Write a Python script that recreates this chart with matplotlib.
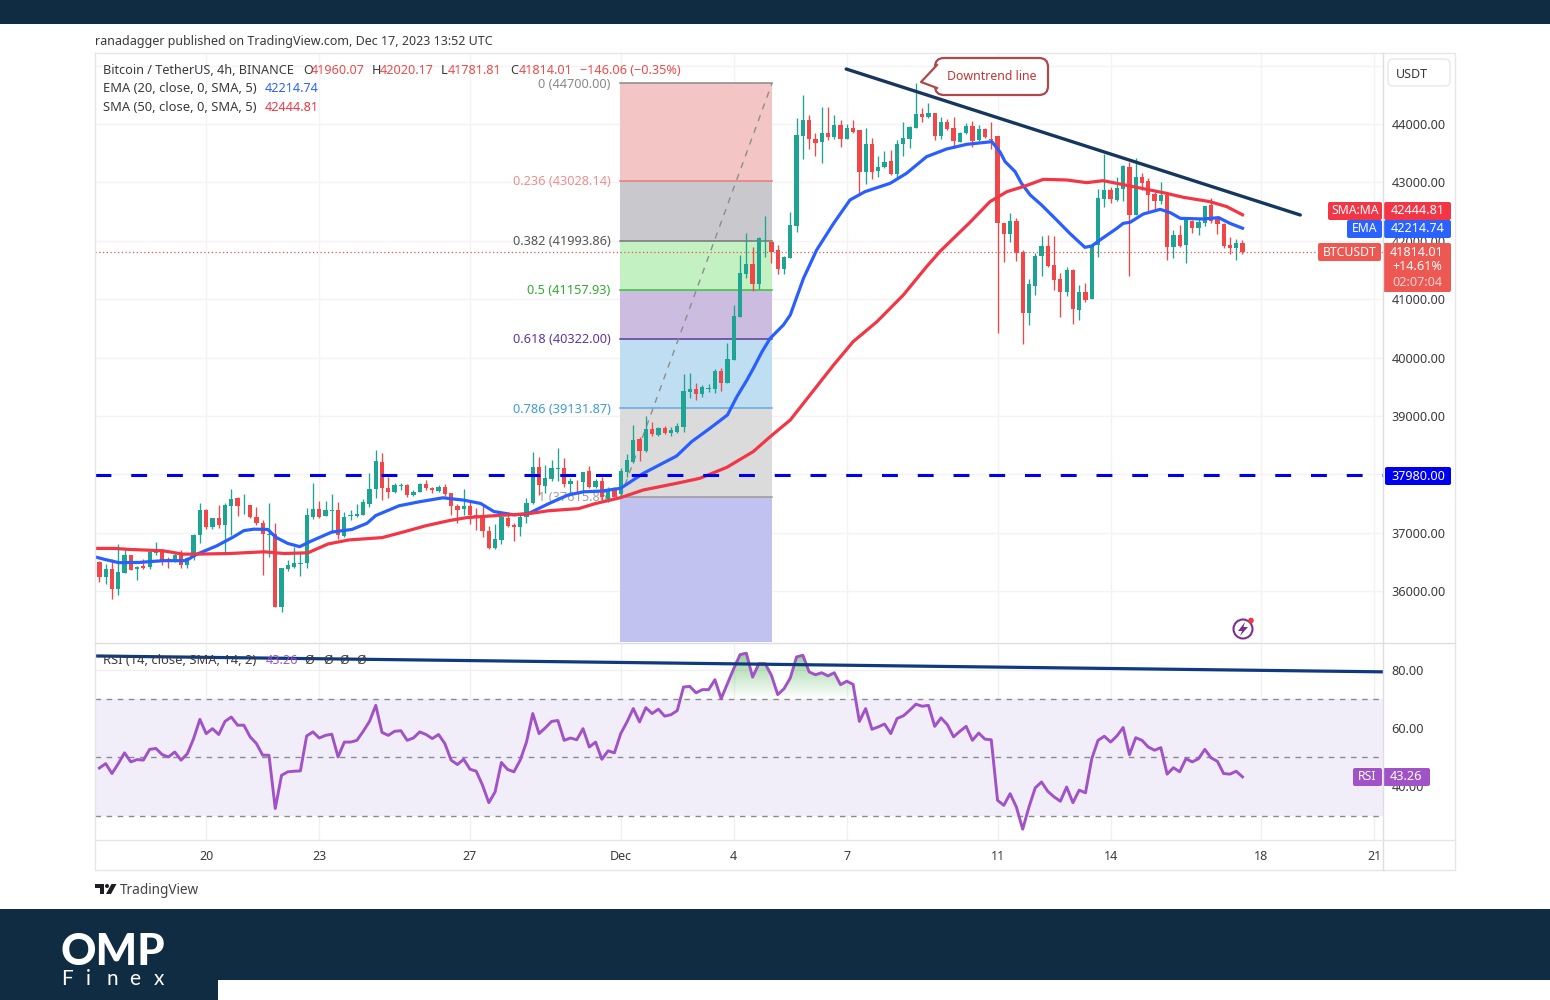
import numpy as np
import matplotlib
matplotlib.use('Agg')
import matplotlib.pyplot as plt
from matplotlib.colors import LinearSegmentedColormap
from matplotlib.patches import Rectangle, FancyBboxPatch, Polygon, Circle
from matplotlib.path import Path

plt.rcParams['font.family'] = ['Noto Sans', 'DejaVu Sans']

# 4h candles, BTC/USDT, first bar is Nov 17 04:00
opens = [36504,36232,36370,36040,36301,36614,36370,36428,36417,36655,
36684,36556,36504,36614,36446,36585,36962,37380,37090,37246,
37131,37461,37586,37466,37478,37275,37171,36962,36973,35734,
36370,36417,36463,36475,37275,37403,37287,37368,37380,36944,
37287,37287,37304,37499,37748,38216,37759,37690,37806,37817,
37644,37702,37829,37771,37719,37788,37673,37461,37403,37449,
37304,37304,37032,36730,36875,37246,37131,37090,37264,37510,
38117,37806,37922,38088,38100,37835,37875,37864,38059,37788,
37893,37568,37748,37662,38045,38216,38599,38399,38770,38673,
38787,38702,38730,38804,39415,39461,39375,39461,39455,39775,
39558,39958,40689,41425,41597,41260,41973,41985,41842,41517,
41710,42258,43800,44069,43738,43686,43852,43772,43983,43738,
43926,43897,43184,43658,43201,43258,43366,43144,43652,43738,
43937,44172,44114,44183,43795,44040,43926,43698,43840,43966,
43726,43909,43738,43795,42310,42116,42338,41813,40768,41231,
41739,41910,41585,41339,41116,41499,40814,41116,40997,41927,
42710,42870,42698,42887,43269,42441,43098,43029,42795,42687,
42784,41899,42099,41927,42344,42213,42310,42613,42396,42281,
41927,41882,41960]
closes = [36232,36370,36040,36318,36614,36359,36417,36388,36672,36672,
36504,36521,36614,36446,36574,36962,37380,37090,37246,37131,
37478,37568,37449,37478,37264,37160,36973,36973,35734,36388,
36446,36475,36486,37304,37408,37275,37391,37380,36962,37275,
37304,37316,37528,37748,38227,37759,37702,37817,37817,37644,
37702,37829,37759,37731,37788,37661,37449,37380,37449,37304,
37246,37032,36730,36887,37264,37113,37102,37264,37516,38117,
37817,37933,38100,38100,37835,37893,37864,38042,37788,37893,
37603,37748,37615,38062,38245,38587,38405,38770,38690,38787,
38702,38759,38827,39427,39461,39370,39490,39472,39775,39558,
39969,40712,41442,41597,41260,42042,41985,41802,41517,41716,
42270,43812,44069,43738,43680,43852,43783,43983,43743,43926,
43869,43184,43658,43184,43269,43355,43138,43658,43755,43955,
44172,44114,44183,43795,44040,43909,43715,43852,43966,43715,
43909,43772,43726,42298,42116,42344,41785,40768,41254,41739,
41910,41568,41328,41128,41499,40825,41116,40985,41922,42738,
42870,42710,42898,43281,42441,43098,42995,42784,42687,42784,
41899,42099,41910,42356,42213,42327,42601,42338,42281,41910,
41870,41956,41814]
highs = [36521,36463,36544,36806,36730,36614,36428,36544,36684,36846,
36701,36585,36672,36701,36585,36979,37507,37403,37258,37478,
37507,37748,37615,37655,37478,37432,37217,37507,37160,36388,
36528,36748,36643,37420,37858,37539,37545,37655,37528,37362,
37391,37487,37568,38030,38418,38360,37951,37846,37846,37829,
37731,37846,37904,37788,37817,37829,37673,37499,37748,37557,
37420,37449,37113,37148,37304,37362,37160,37304,37586,38389,
38302,38158,38245,38447,38274,37933,37904,38042,38140,37916,
37951,37788,37788,38102,38348,38844,38644,38999,38901,38804,
38827,38804,38884,39712,39741,39558,39530,39547,39798,39815,
40255,40900,41756,42139,41899,42059,42424,42002,41928,41739,
42487,44097,44497,44154,43852,44297,44286,44154,44069,44000,
44069,43897,43926,43755,43452,43532,43555,43726,44040,43966,
44697,44269,44354,44183,44126,44080,44126,43869,44023,44057,
43983,43926,44040,43795,42310,42470,42396,41842,41339,41785,
42082,42099,42082,41453,41556,41511,41242,41282,41944,42881,
43486,42927,43086,43298,43355,43412,43166,43069,42841,43012,
42784,42184,42270,42413,42356,42384,42601,42727,42413,42298,
42059,42024,42020]
lows = [36156,36127,35867,35925,36301,36359,36197,36370,36370,36614,
36446,36388,36504,36399,36399,36539,36817,37055,37055,37084,
36672,36962,37293,37322,37246,37131,36272,36585,35734,35635,
36341,36399,36255,36388,37229,37246,37287,37020,36887,36921,
37217,37275,37304,37441,37586,37557,37586,37673,37731,37603,
37626,37690,37731,37673,37702,37626,37304,37160,37304,37148,
37044,36921,36713,36713,36800,37090,36863,36945,37160,37499,
37644,37673,37893,37893,37788,37644,37673,37702,37759,37759,
37557,37545,37603,37617,37959,38188,38233,38388,38656,38656,
38690,38656,38713,38719,39301,39273,39330,39415,39387,39432,
39558,39958,40689,41357,41140,41168,41728,41625,41425,41425,
41710,42156,43401,43566,43452,43338,43726,43738,43601,43738,
43840,42824,42972,43052,43087,43241,43127,43070,43452,43583,
43926,44040,44097,43726,43738,43897,43583,43686,43829,43612,
43709,43755,43566,40414,41642,41984,41659,40231,40557,41071,
41396,41556,41156,40700,41059,40568,40643,40957,40997,41727,
42573,42652,42687,42687,41396,42441,42870,42481,42527,42630,
41670,41699,41887,41613,42139,42099,42253,42310,42116,41870,
41773,41670,41781]

ema_pos = [-0.7,0.9,3.1,6.3,10.1,13.8,15.4,18.7,21.4,23,24.6,26.8,28.1,30,31.9,33.7,37,40.2,42.6,44,
47.7,51,54.7,58,60.7,62.8,66,68.2,71.4,74.6,77.1,80,83,86.6,91.9,94.3,97.2,100,101.5,103.1,
104.2,105.5,106.8,108.9,110,112.1,114.2,116.9,119.5,121.9,125.9,128.5,131.7,134.9,138.1,142.1,143.4,144.2,145.8,146.8,
148.2,150,152.4,154.5,156.9,158,159.3,162,163,164.1,166.2,168.9,170.5,172.1,175.8,178.2,180,182]
ema_vals = [36585,36540,36486,36490,36520,36520,36625,36775,36930,37035,37060,37055,36920,36815,36760,36855,37010,37055,37160,37293,
37460,37530,37597,37557,37500,37362,37304,37322,37490,37644,37700,37713,37760,38016,38313,38559,38787,39016,39330,39615,
39830,40100,40329,40557,40729,41356,41842,42298,42698,42841,42984,43155,43440,43572,43652,43697,43520,43355,43184,42984,
42784,42613,42356,42127,41887,41910,42013,42213,42298,42316,42458,42538,42481,42384,42373,42396,42298,42214.74]

sma_pos = [-0.7,2.5,4.7,10.1,13.3,15.4,20.8,26.2,29.4,33.2,36.4,39.7,45,47.7,52,55.8,58.5,63.9,68.2,71.4,
76.3,79,83,86.6,91.9,95.6,99.9,104.1,106.8,110,116.9,120,123.8,128,131.7,133.9,138.6,141.8,144.5,147.1,
150.3,154,157.2,159.8,164.1,169.9,172.6,176.8,179.5,182]
sma_vals = [36730,36730,36713,36690,36632,36632,36643,36672,36643,36655,36806,36875,36915,36991,37119,37209,37258,37298,37322,37374,
37412,37499,37600,37731,37845,37931,38119,38388,38644,38930,39872,40271,40614,41071,41556,41824,42315,42670,42841,42927,
43052,43041,42995,43029,42938,42812,42744,42670,42584,42444.81]

rsi = [46.3,47.8,44.4,47.8,51.5,48.4,49.2,49.0,52.7,53.0,50.9,50.1,51.8,49.0,51.2,56.4,63.0,58.1,59.8,57.8,
62.3,63.8,61.0,61.0,57.0,54.7,50.7,50.7,32.4,43.8,45.0,45.2,45.3,57.3,58.7,56.6,57.5,57.9,50.1,55.2,
55.2,55.8,58.9,62.3,67.8,58.5,57.5,58.9,59.1,55.8,56.6,58.7,57.8,56.4,57.8,54.7,49.0,47.5,49.3,45.9,
45.2,40.4,34.4,38.1,48.2,45.8,45.0,49.0,55.2,65.0,58.1,60.1,62.3,62.6,55.8,56.6,56.0,59.8,53.5,55.2,
49.3,52.2,51.5,58.1,62.1,66.7,62.1,67.0,65.0,66.5,64.1,64.6,66.0,74.1,74.3,72.1,73.2,73.2,76.6,70.1,
75.3,80.4,85.2,85.7,77.5,82.1,82.1,78.1,71.5,73.5,77.2,84.4,85.0,79.3,78.3,79.0,77.9,79.0,74.9,76.1,
75.0,62.3,66.7,59.6,60.4,61.4,58.1,63.3,64.2,66.1,68.2,67.5,67.8,60.6,63.5,61.2,57.0,58.9,60.6,55.8,
58.3,56.2,56.0,35.2,33.5,37.5,32.9,25.3,32.9,39.5,41.5,38.3,36.4,34.9,39.8,34.4,38.7,37.8,49.5,55.8,
57.2,55.2,57.3,60.2,50.9,56.7,55.8,53.5,52.4,53.3,44.2,46.4,45.0,49.5,48.4,49.5,52.7,49.8,48.6,44.4,
44.2,45.2,43.26]

fib_levels = [0, 0.236, 0.382, 0.5, 0.618, 0.786, 1]
fib_prices = [44700.00, 43028.14, 41993.86, 41157.93, 40322.00, 39131.87, 37615.86]
fib_fill = ['#f3c5c4', '#c9c9cd', '#c3f1c1', '#cbbce0', '#c0def1', '#dbdbdb', '#c1c2ef']
fib_line = ['#8a8a8a', '#e57c7c', '#757575', '#3cc23c', '#5a3aa0', '#64a8da', '#9a9a9a']
fib_text = ['#8a8a8a', '#ee8f8f', '#555555', '#2fae2f', '#5e35a6', '#3f9bd8', '#a0a0a0']

price_ticks = [36000, 37000, 38000, 39000, 40000, 41000, 42000, 43000, 44000, 45000]
rsi_ticks = [40, 60, 80]
date_pos = [17, 35, 59, 83, 101, 119, 143, 161, 185, 203]
date_labels = ['20', '23', '27', 'Dec', '4', '7', '11', '14', '18', '21']

support = 37980
last_close = 41814.01
trend_pos = [118.9, 191.2]
trend_vals = [44942, 42441]
rsi_trend_pos = [-0.7, 204.37]
rsi_trend_vals = [84.75, 79.3]

W, H = 1550, 1000
NAVY = '#0f2c42'
GREEN = '#1ea492'
RED = '#f04848'
TXT = '#3a3a3e'


def box(x0, y0, x1, y1):
    return [x0 / W, 1 - y1 / H, (x1 - x0) / W, (y1 - y0) / H]


fig = plt.figure(figsize=(W / 100, H / 100), dpi=100, facecolor='white')

ax = fig.add_axes(box(95, 53, 1383, 642))
ax_rsi = fig.add_axes(box(95, 643, 1383, 840), sharex=ax)

# price pane
ax.set_xlim(-0.70, 204.37)
ax.set_ylim(35127, 45216)
for s in ax.spines.values():
    s.set_visible(False)
ax.yaxis.tick_right()
ax.set_yticks(price_ticks)
ax.set_yticklabels([f'{p:.2f}' if p < 45000 else '' for p in price_ticks], color=TXT, fontsize=9.1)
ax.set_xticks(date_pos)
ax.tick_params(axis='both', length=0, pad=6)
ax.tick_params(axis='x', labelbottom=False)
ax.grid(color='#f3f3f5', lw=1)
ax.set_axisbelow(True)

# fib retracement
fx0, fx1 = 83, 107.1
edges = fib_prices + [35127]
for i in range(len(fib_fill)):
    ax.fill_between([fx0 - 0.1, fx1], edges[i], edges[i + 1], color=fib_fill[i], lw=0, zorder=1)
for lvl, p, lc, tc in zip(fib_levels, fib_prices, fib_line, fib_text):
    ax.plot([fx0 - 0.1, fx1], [p, p], color=lc, lw=1.1, zorder=1.5)
    ax.text(81.4, p - 15, f'{lvl} ({p:.2f})', color=tc, fontsize=9.2, ha='right', va='center', zorder=1.5)
ax.plot([fx0, fx1], [fib_prices[-1], fib_prices[0]], color='#8c8c8c', lw=1, ls=(0, (4.5, 4.5)), zorder=1.6)

# candles
x = np.arange(len(opens))
opens = np.array(opens)
closes = np.array(closes)
colors = [GREEN if c >= o else RED for o, c in zip(opens, closes)]
ax.vlines(x, lows, highs, colors=colors, lw=0.95, zorder=3)
ax.bar(x, np.maximum(np.abs(closes - opens), 12), bottom=np.minimum(opens, closes),
       width=0.68, color=colors, lw=0, zorder=3.2)

ax.plot(ema_pos, ema_vals, color='#2a5fff', lw=2.3, zorder=4, solid_joinstyle='round')
ax.plot(sma_pos, sma_vals, color='#f23645', lw=2.3, zorder=4, solid_joinstyle='round')

ax.axhline(last_close, color='#ef5350', lw=0.9, ls=(0, (1, 2)), zorder=3.5)
ax.axhline(support, color='#0000f0', lw=2.2, ls=(0, (5.2, 6.5)), zorder=5)
ax.plot(trend_pos, trend_vals, color='#15365f', lw=2.4, zorder=5, solid_capstyle='round')

# rsi pane
ax_rsi.set_ylim(21.6, 89.2)
for s in ax_rsi.spines.values():
    s.set_visible(False)
ax_rsi.yaxis.tick_right()
ax_rsi.set_yticks(rsi_ticks)
ax_rsi.set_yticklabels([f'{v:.2f}' for v in rsi_ticks], color=TXT, fontsize=9.1)
ax_rsi.set_xticks(date_pos)
ax_rsi.set_xticklabels(date_labels, color=TXT, fontsize=9)
ax_rsi.get_xticklabels()[3].set_fontweight('bold')
ax_rsi.tick_params(axis='both', length=0, pad=6)
ax_rsi.tick_params(axis='x', pad=7)
ax_rsi.grid(color='#f0f0f3', lw=1)
ax_rsi.set_axisbelow(True)

ax_rsi.axhspan(30, 70, color='#f1eefa', lw=0, zorder=1)
for lvl in (70, 50, 30):
    ax_rsi.axhline(lvl, color='#8a8a92', lw=1, ls=(0, (4, 4)), zorder=1.5)

rx = np.arange(len(rsi))
rsi = np.array(rsi)
over = ax_rsi.fill_between(rx, rsi, 70, where=rsi > 70, interpolate=True, color='none', lw=0)
cmap = LinearSegmentedColormap.from_list('ob', [(0.3, 0.69, 0.31, 0.0), (0.3, 0.69, 0.31, 0.6)])
im = ax_rsi.imshow(np.linspace(1, 0, 64).reshape(-1, 1), cmap=cmap, aspect='auto',
                   extent=(0, len(rsi), 70, 86), zorder=2, vmin=0, vmax=1)
im.set_clip_path(Path.make_compound_path(*over.get_paths()), transform=ax_rsi.transData)
ax_rsi.set_xlim(-0.70, 204.37)
ax_rsi.set_ylim(21.6, 89.2)

ax_rsi.plot(rx, rsi, color='#a052c6', lw=2.1, zorder=4)
ax_rsi.plot(rsi_trend_pos, rsi_trend_vals, color='#0f3a80', lw=2.3, zorder=5, solid_capstyle='butt')

# overlay in pixel coordinates: frame, tags, header, logos
ov = fig.add_axes([0, 0, 1, 1], zorder=10)
ov.set_xlim(0, W)
ov.set_ylim(H, 0)
ov.axis('off')
ov.patch.set_alpha(0)

ov.add_patch(Rectangle((0, 0), W, 24, color=NAVY, lw=0))
ov.add_patch(Rectangle((0, 909), W, 91, color=NAVY, lw=0))
ov.add_patch(Rectangle((218, 980), W - 218, 20, color='white', lw=0))

frame = '#e6e6ea'
ov.plot([95, 1455, 1455, 95, 95], [53, 53, 870, 870, 53], color=frame, lw=1)
ov.plot([1383, 1383], [53, 870], color='#dedee2', lw=1)
ov.plot([95, 1455], [642.5, 642.5], color='#dedee2', lw=1)
ov.plot([95, 1455], [840, 840], color=frame, lw=1)

ov.add_patch(FancyBboxPatch((1389, 60), 60, 25, boxstyle='round,pad=1,rounding_size=5',
                            fc='white', ec='#e8e8ec', lw=1))
ov.text(1412, 74, 'USDT', color=TXT, fontsize=9, ha='center', va='center')


def tag(x0, y0, x1, y1, color, text=None, size=8.8):
    ov.add_patch(FancyBboxPatch((x0 + 1, y0 + 1), x1 - x0 - 2, y1 - y0 - 2,
                                boxstyle='round,pad=1,rounding_size=2', fc=color, ec='none'))
    if text:
        ov.text((x0 + x1) / 2, (y0 + y1) / 2, text, color='white', fontsize=size, ha='center', va='center')


tag(1328, 202, 1382, 220, '#f23645', 'SMA:MA')
tag(1384, 202, 1451, 220, '#f23645', '42444.81', 9.1)
tag(1347, 220, 1382, 238, '#2962ff', 'EMA')
tag(1384, 220, 1451, 238, '#2962ff', '42214.74', 9.1)
tag(1318, 243, 1381, 261, '#ee5852', 'BTCUSDT')
tag(1383, 243, 1451, 292, '#ee5852')
ov.text(1417, 252, '41814.01', color='white', fontsize=9.1, ha='center', va='center')
ov.text(1417, 267, '+14.61%', color='white', fontsize=9.1, ha='center', va='center')
ov.text(1417, 283, '02:07:04', color='#f8d4d2', fontsize=9.1, ha='center', va='center')
tag(1385, 467, 1451, 485, '#0000f0', '37980.00', 9.1)
tag(1353, 768, 1382, 786, '#a052c6', 'RSI')
tag(1383, 768, 1430, 786, '#a052c6', '43.26', 9.1)

# header and legends
ov.text(95, 41, 'ranadagger published on TradingView.com, Dec 17, 2023 13:52 UTC', color=TXT, fontsize=9.0, va='center')
ov.text(103, 70, 'Bitcoin / TetherUS, 4h, BINANCE', color=TXT, fontsize=9.1, va='center')
for px, letter, vpx, val in [(303, 'O', 311, '41960.07'), (372, 'H', 380, '42020.17'),
                             (441, 'L', 448, '41781.81'), (510, 'C', 519, '41814.01')]:
    ov.text(px, 70, letter, color=TXT, fontsize=9.1, va='center')
    ov.text(vpx, 70, val, color='#ee4b4b', fontsize=9.1, va='center')
ov.text(580, 70, '−146.06 (−0.35%)', color='#ee4b4b', fontsize=9.1, va='center')
ov.text(103, 88, 'EMA (20, close, 0, SMA, 5)', color=TXT, fontsize=9.3, va='center')
ov.text(265, 88, '42214.74', color='#2962ff', fontsize=9.1, va='center')
ov.text(103, 107.5, 'SMA (50, close, 0, SMA, 5)', color=TXT, fontsize=9.3, va='center')
ov.text(265, 107.5, '42444.81', color='#f23645', fontsize=9.1, va='center')
ov.text(103, 660.5, 'RSI (14, close, SMA, 14, 2)', color=TXT, fontsize=9.3, va='center')
ov.text(266, 660.5, '43.26', color='#a052c6', fontsize=9.1, va='center')
for px in (309, 328, 344, 361):
    ov.text(px, 660.5, 'Ø', color=TXT, fontsize=9.1, ha='center', va='center')

# downtrend callout
ov.add_patch(FancyBboxPatch((938, 61), 107, 31, boxstyle='round,pad=3,rounding_size=9',
                            fc='white', ec='#b0474a', lw=1.6))
ov.add_patch(Polygon([(937, 65), (921, 82), (937, 88)], closed=True, fc='white', ec='none'))
ov.plot([937, 921, 937], [65, 82, 88], color='#b0474a', lw=1.6)
ov.text(992, 76, 'Downtrend line', color='#c23636', fontsize=8.9, ha='center', va='center')

# lightning icon
ov.add_patch(Circle((1243, 629), 9.5, fc='white', ec='#7b2f92', lw=1.5))
ov.add_patch(Polygon([(1245, 622), (1238, 631), (1242, 631), (1240, 636), (1248, 627), (1243.5, 627)],
                     closed=True, fc='#7b2f92', ec='none'))
ov.add_patch(Circle((1251, 620.5), 2.8, fc='#ee3b3b', ec='none'))

# tradingview logo
ov.add_patch(Polygon([(95, 884), (104, 884), (104, 894), (100, 894), (100, 888), (95, 888)],
                     closed=True, fc='#1e1e22', ec='none'))
ov.add_patch(Circle((107, 886), 2, fc='#1e1e22', ec='none'))
ov.add_patch(Polygon([(111.5, 884), (116.5, 884), (111, 894), (106, 894)], closed=True, fc='#1e1e22', ec='none'))
ov.text(120, 890, 'TradingView', color='#444448', fontsize=9.8, va='center')

# omp finex logo
ov.text(113, 952, 'OMP', color='white', fontsize=31.5, fontweight='black', family='Lato', ha='center', va='center')
for px, ch in zip([67, 88, 112, 135, 159], ['F', 'i', 'n', 'e', 'x']):
    ov.text(px, 979, ch, color='white', fontsize=15, family='Lato', ha='center', va='center')

fig.savefig('out.png', dpi=100)
